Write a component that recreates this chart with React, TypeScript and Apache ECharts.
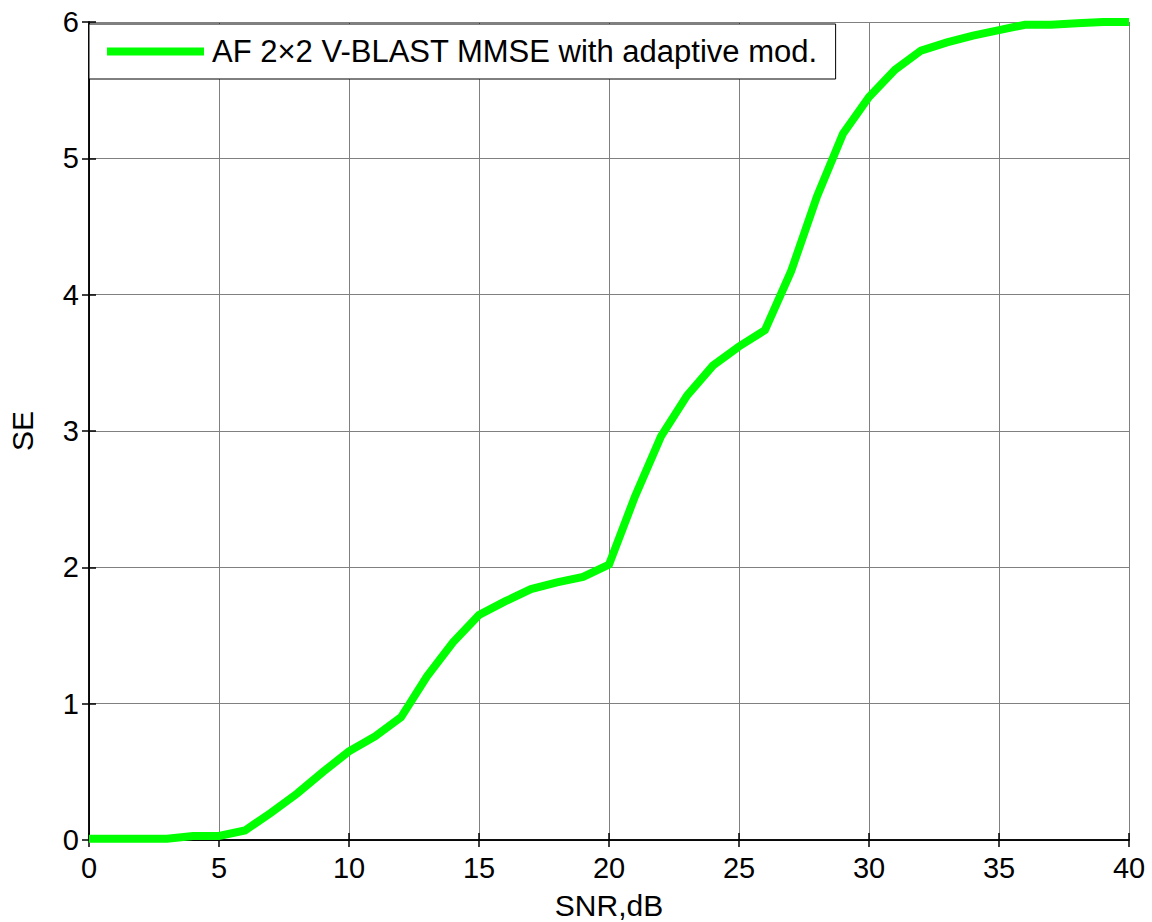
import React, { useEffect, useRef } from "react";
import * as echarts from "echarts";

const snr = [0,1,2,3,4,5,6,7,8,9,10,11,12,13,14,15,16,17,18,19,20,21,22,23,24,25,26,27,28,29,30,31,32,33,34,35,36,37,38,39,40];
const se = [0.01,0.01,0.01,0.01,0.03,0.03,0.07,0.2,0.34,0.5,0.65,0.76,0.9,1.2,1.45,1.65,1.75,1.84,1.89,1.93,2.02,2.52,2.96,3.26,3.48,3.62,3.74,4.17,4.72,5.18,5.45,5.65,5.79,5.85,5.9,5.94,5.98,5.98,5.99,6.0,6.0];
const seriesName = "AF 2×2 V-BLAST MMSE with adaptive mod.";
const xName = "SNR,dB";
const yName = "SE";

export default function App() {
  const ref = useRef<HTMLDivElement>(null);
  useEffect(() => {
    const chart = echarts.init(ref.current!, null, { renderer: "svg" });
    const font = "Liberation Sans, Arial, Helvetica, sans-serif";
    const data = snr.map((x, i) => [x, se[i]]);
    chart.setOption({
      animation: false,
      backgroundColor: "#fff",
      grid: { left: 89, right: 23, top: 22, bottom: 82, containLabel: false, outerBoundsMode: "none" },
      legend: {
        show: true,
        left: 89,
        top: 24,
        orient: "horizontal",
        backgroundColor: "#fff",
        borderColor: "#000",
        borderWidth: 1,
        borderRadius: 0,
        padding: [12, 18, 12, 18],
        itemWidth: 97,
        itemHeight: 8,
        icon: "rect",
        textStyle: { fontSize: 31, fontFamily: font, color: "#000", padding: [0, 0, 0, 3] },
        data: [{ name: seriesName, itemStyle: { color: "#00ff00" } }],
      },
      xAxis: [
        {
          type: "value",
          min: 0,
          max: 40,
          interval: 5,
          name: xName,
          nameLocation: "middle",
          nameGap: 50,
          nameTextStyle: { fontSize: 30, fontFamily: font, color: "#000" },
          axisLine: { show: true, lineStyle: { color: "#000", width: 1.5 } },
          axisTick: { show: true, inside: true, length: 7, lineStyle: { color: "#000", width: 1.5 } },
          axisLabel: { fontSize: 29, fontFamily: font, color: "#000", margin: 13 },
          splitLine: { show: true, lineStyle: { color: "#808080", width: 1 } },
        },
        {
          type: "value",
          position: "top",
          min: 0,
          max: 40,
          interval: 5,
          axisLine: { show: true, lineStyle: { color: "#000", width: 1.5 } },
          axisTick: { show: true, inside: true, length: 7, lineStyle: { color: "#000", width: 1.5 } },
          axisLabel: { show: false },
          splitLine: { show: false },
        },
      ],
      yAxis: [
        {
          type: "value",
          min: 0,
          max: 6,
          interval: 1,
          name: yName,
          nameLocation: "middle",
          nameGap: 52,
          nameRotate: 90,
          nameTextStyle: { fontSize: 30, fontFamily: font, color: "#000" },
          axisLine: { show: true, lineStyle: { color: "#000", width: 1.5 } },
          axisTick: { show: true, inside: true, length: 7, lineStyle: { color: "#000", width: 1.5 } },
          axisLabel: { fontSize: 29, fontFamily: font, color: "#000", margin: 10 },
          splitLine: { show: true, lineStyle: { color: "#808080", width: 1 } },
        },
        {
          type: "value",
          position: "right",
          min: 0,
          max: 6,
          interval: 1,
          axisLine: { show: true, lineStyle: { color: "#000", width: 1.5 } },
          axisTick: { show: true, inside: true, length: 7, lineStyle: { color: "#000", width: 1.5 } },
          axisLabel: { show: false },
          splitLine: { show: false },
        },
      ],
      series: [
        {
          name: seriesName,
          type: "line",
          xAxisIndex: 0,
          yAxisIndex: 0,
          data,
          showSymbol: false,
          symbol: "none",
          clip: false,
          lineStyle: { color: "#00ff00", width: 8, join: "miter" },
          itemStyle: { color: "#00ff00" },
          z: 3,
        },
      ],
    });
    return () => chart.dispose();
  }, []);
  return (
    <div
      ref={ref}
      style={{ position: "fixed", left: 0, top: 0, width: 1152, height: 922, background: "#fff" }}
    />
  );
}
